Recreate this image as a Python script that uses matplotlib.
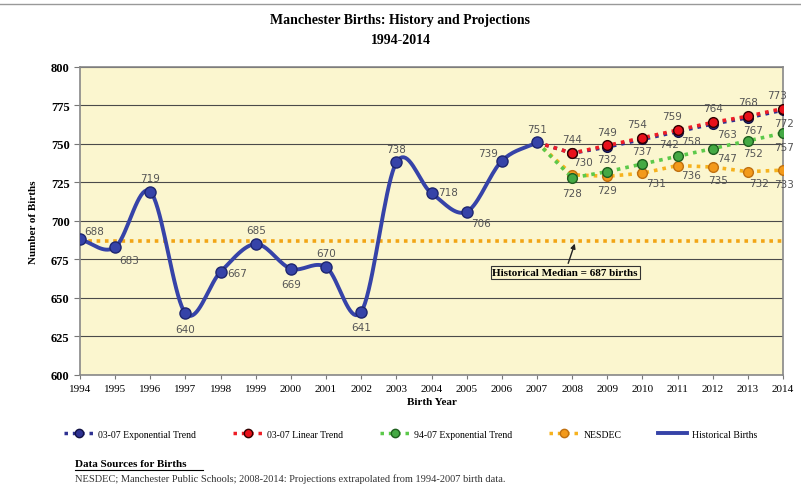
import numpy as np
import matplotlib
matplotlib.use('Agg')
import matplotlib.pyplot as plt
from matplotlib.lines import Line2D

# historical births
hist_years = [1994, 1995, 1996, 1997, 1998, 1999, 2000, 2001, 2002, 2003, 2004, 2005, 2006, 2007]
hist_births = [688, 683, 719, 640, 667, 685, 669, 670, 641, 738, 718, 706, 739, 751]

# projections (start from the 2007 actual)
proj_years = [2007, 2008, 2009, 2010, 2011, 2012, 2013, 2014]
exp_0307 = [751, 744, 748, 753, 758, 763, 767, 772]
lin_0307 = [751, 744, 749, 754, 759, 764, 768, 773]
exp_9407 = [751, 728, 732, 737, 742, 747, 752, 757]
nesdec = [751, 730, 729, 731, 736, 735, 732, 733]

median_births = 687
year_ticks = list(range(1994, 2015))

serif = 'Liberation Serif'
label_color = '#555555'


def smooth(x, y, n=20):
    # catmull-rom curve through the points, like Excel's smoothed line
    x = np.asarray(x, float)
    y = np.asarray(y, float)
    px = np.concatenate([[2 * x[0] - x[1]], x, [2 * x[-1] - x[-2]]])
    py = np.concatenate([[2 * y[0] - y[1]], y, [2 * y[-1] - y[-2]]])
    xs, ys = [], []
    t = np.linspace(0, 1, n)
    for i in range(1, len(px) - 2):
        for p, out in ((px, xs), (py, ys)):
            p0, p1, p2, p3 = p[i - 1], p[i], p[i + 1], p[i + 2]
            out.extend(0.5 * ((2 * p1) + (-p0 + p2) * t +
                              (2 * p0 - 5 * p1 + 4 * p2 - p3) * t ** 2 +
                              (-p0 + 3 * p1 - 3 * p2 + p3) * t ** 3))
    return xs, ys


fig = plt.figure(figsize=(8.01, 4.89), dpi=100)
ax = fig.add_axes([0.0999, 0.2311, 0.8777, 0.630])
ax.set_facecolor('#FBF6CF')

ax.set_xlim(1994, 2014)
ax.set_ylim(600, 800)
ax.set_yticks(range(600, 801, 25))
ax.set_xticks(year_ticks)
ax.yaxis.grid(True, color='#4a4a4a', lw=0.8)
ax.set_axisbelow(True)
for s in ax.spines.values():
    s.set_color('#888888')
    s.set_linewidth(1.2)

# median line
ax.axhline(median_births, color='#F2A516', lw=2.6, ls=(0, (1, 1.3)), zorder=2)

# projections
ax.plot(proj_years, nesdec, color='#F6B21E', lw=2.6, ls=(0, (1, 1.4)),
        marker='o', ms=7, mfc='#F39A1B', mec='#C07010', zorder=3)
ax.plot(proj_years, exp_9407, color='#5CC94A', lw=2.6, ls=(0, (1, 1.4)),
        marker='o', ms=7, mfc='#44A944', mec='#1F5F1F', zorder=3)
ax.plot(proj_years, exp_0307, color='#2E3192', lw=2.6, ls=(0, (1, 1.4)),
        marker='o', ms=7, mfc='#2E3192', mec='#111144', zorder=3)
ax.plot(proj_years, lin_0307, color='#EE1C25', lw=2.6, ls=(0, (1, 1.4)),
        marker='o', ms=7, mfc='#E8101A', mec='#300000', zorder=3)

# historical
sx, sy = smooth(hist_years, hist_births)
ax.plot(sx, sy, color='#3643A8', lw=2.8, zorder=4, solid_capstyle='round')
ax.plot(hist_years, hist_births, ls='none', marker='o', ms=8,
        mfc='#3643A8', mec='#1E2670', zorder=5)

# data labels (offsets in points)
hist_off = [(10, 6), (10, -9), (0, 10), (0, -11), (12, -1), (0, 10), (0, -11),
            (0, 10), (0, -11), (0, 10), (12, 1), (10, -8), (-10, 6), (0, 10)]
for x, y, o in zip(hist_years, hist_births, hist_off):
    ax.annotate(str(y), (x, y), xytext=o, textcoords='offset points',
                ha='center', va='center', fontsize=7.5, color=label_color, zorder=6)

lin_off = [(0, 10), (0, 10), (-4, 10), (-4, 10), (0, 10), (0, 10), (-4, 10)]
exp0307_off = [None, None, None, (10, -7), (10, -7), (4, -9), (1, -9)]
exp9407_off = [(0, -11), (0, 9), (0, 9), (-6, 9), (10, -7), (4, -9), (1, -10)]
nesdec_off = [(8, 9), (0, -10), (10, -7), (10, -7), (4, -9), (8, -8), (1, -10)]
for vals, offs in ((lin_0307, lin_off), (exp_0307, exp0307_off),
                   (exp_9407, exp9407_off), (nesdec, nesdec_off)):
    for x, y, o in zip(proj_years[1:], vals[1:], offs):
        if o is None:
            continue
        ax.annotate(str(y), (x, y), xytext=o, textcoords='offset points',
                    ha='center', va='center', fontsize=7.5, color=label_color,
                    zorder=6, annotation_clip=False)

# median callout
ax.annotate('Historical Median = 687 births', xy=(2008.1, median_births),
            xytext=(2007.8, 666.5), ha='center', va='center',
            fontsize=8, fontweight='bold', family=serif,
            bbox=dict(boxstyle='square,pad=0.15', fc='#FBF6CF', ec='#333333', lw=0.8),
            arrowprops=dict(arrowstyle='-|>', color='#222222', lw=1, mutation_scale=7),
            zorder=7)

# axes text
for lab in ax.get_yticklabels():
    lab.set_fontweight('bold')
ax.tick_params(axis='y', labelsize=9, length=4, color='#777777')
ax.tick_params(axis='x', labelsize=8, length=3, color='#777777')
for lab in ax.get_xticklabels() + ax.get_yticklabels():
    lab.set_family(serif)
ax.set_xlabel('Birth Year', fontsize=8, fontweight='bold', family=serif, labelpad=3)
ax.set_ylabel('Number of Births', fontsize=8, fontweight='bold', family=serif, labelpad=9)

fig.text(0.5, 0.958, 'Manchester Births: History and Projections', ha='center',
         va='center', fontsize=10, fontweight='bold', family=serif)
fig.text(0.5, 0.917, '1994-2014', ha='center', va='center', fontsize=10,
         fontweight='bold', family=serif)

# legend
handles = [
    Line2D([], [], color='#2E3192', lw=2.5, ls=(0, (1, 1.4)), marker='o', ms=6,
           mfc='#2E3192', mec='#111144'),
    Line2D([], [], color='#EE1C25', lw=2.5, ls=(0, (1, 1.4)), marker='o', ms=6,
           mfc='#E8101A', mec='#300000'),
    Line2D([], [], color='#5CC94A', lw=2.5, ls=(0, (1, 1.4)), marker='o', ms=6,
           mfc='#44A944', mec='#1F5F1F'),
    Line2D([], [], color='#F6B21E', lw=2.5, ls=(0, (1, 1.4)), marker='o', ms=6,
           mfc='#F39A1B', mec='#C07010'),
    Line2D([], [], color='#3643A8', lw=2.8),
]
labels = ['03-07 Exponential Trend', '03-07 Linear Trend', '94-07 Exponential Trend',
          'NESDEC', 'Historical Births']
fig.legend(handles, labels, loc='center', bbox_to_anchor=(0.513, 0.11), ncol=5,
           frameon=False, prop={'family': serif, 'size': 7}, handlelength=3,
           columnspacing=3.8, handletextpad=0.5)

fig.text(0.094, 0.051, 'Data Sources for Births', fontsize=8, fontweight='bold',
         family=serif, va='center')
fig.add_artist(Line2D([0.094, 0.253], [0.037, 0.037], color='black', lw=0.8))
fig.text(0.094, 0.02, 'NESDEC; Manchester Public Schools; 2008-2014: Projections '
         'extrapolated from 1994-2007 birth data.', fontsize=7.5, family=serif,
         va='center', color='#333333')

fig.add_artist(Line2D([0.0, 1.0], [0.99, 0.99], color='#999999', lw=1))

fig.savefig('out.png', dpi=100)
